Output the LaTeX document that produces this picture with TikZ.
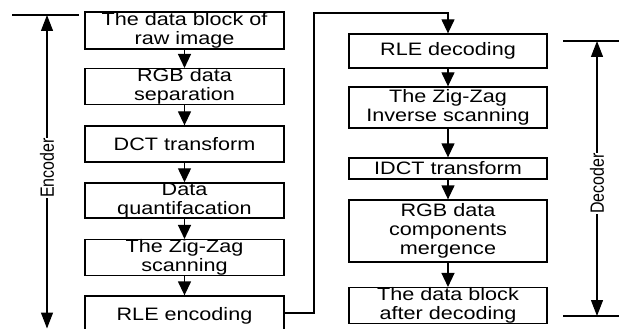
\documentclass[tikz,border=0pt]{standalone}
\usepackage{fontspec}
\setmainfont{Liberation Sans}[FakeStretch=1.2]
\newfontfamily\lblfont{Liberation Sans}
\usetikzlibrary{arrows.meta}
\begin{document}
\begin{tikzpicture}[x=1pt,y=-1pt, line width=1.3pt,
  box/.style={draw, inner sep=0pt, align=center, font=\fontsize{18}{19}\selectfont},
  lbox/.style={box, minimum width=199pt},
  rbox/.style={box, minimum width=198pt},
  arr/.style={-{Triangle[length=14pt,width=13pt]}},
  dimarr/.style={{Triangle[length=16pt,width=12pt]}-{Triangle[length=16pt,width=12pt]}},
  lbl/.style={rotate=90, fill=white, inner sep=0.5pt, font=\lblfont\fontsize{16}{16}\selectfont}]
\useasboundingbox (0,0) rectangle (619,329);
% left column
\node[lbox, minimum height=37pt] (l1) at (184.5,30.5) {The data block of\\raw image};
\node[lbox, minimum height=35pt] (l2) at (184.5,86.5) {RGB data\\separation};
\node[lbox, minimum height=36pt] (l3) at (184.5,144) {DCT transform};
\node[lbox, minimum height=35pt] (l4) at (184.5,200.5) {Data\\quantifacation};
\node[lbox, minimum height=35pt] (l5) at (184.5,257.5) {The Zig-Zag\\scanning};
\node[lbox, minimum height=40pt] (l6) at (184.5,316) {RLE encoding};
% right column
\node[rbox, minimum height=34pt] (r1) at (448,51) {RLE decoding};
\node[rbox, minimum height=41pt] (r2) at (448,107.5) {The Zig-Zag\\Inverse scanning};
\node[rbox, minimum height=21pt] (r3) at (448,168.5) {IDCT transform};
\node[rbox, minimum height=62pt] (r4) at (448,231) {RGB data\\components\\mergence};
\node[rbox, minimum height=35pt] (r5) at (448,305.5) {The data block\\after decoding};
% arrows
\draw[arr] (l1) -- (l2);
\draw[arr] (l2) -- (l3);
\draw[arr] (l3) -- (l4);
\draw[arr] (l4) -- (l5);
\draw[arr] (l5) -- (l6);
\draw[arr] (r1) -- (r2);
\draw[arr] (r2) -- (r3);
\draw[arr] (r3) -- (r4);
\draw[arr] (r4) -- (r5);
\coordinate (c1) at (314,13);
\coordinate (lout) at ([yshift=3pt]l6.east);
\draw[arr] (lout) -- (c1 |- lout) -- (c1) -- (c1 -| r1.north) -- (r1.north);
% encoder
\coordinate (etl) at (12,15);
\coordinate (etr) at (79,15);
\coordinate (et) at (47,15);
\coordinate (eb) at (47,328.5);
\draw (etl) -- (etr);
\draw[dimarr] (et) -- (eb);
\node[lbl] (enc) at (47,168) {\scalebox{1}[1.2]{Encoder}};
% decoder
\coordinate (dtl) at (563,41);
\coordinate (dtr) at (619,41);
\coordinate (dbl) at (563,316);
\coordinate (dbr) at (619,316);
\coordinate (dt) at (597,41);
\coordinate (db) at (597,316);
\draw (dtl) -- (dtr);
\draw (dbl) -- (dbr);
\draw[dimarr] (dt) -- (db);
\node[lbl] (dec) at (597,183.5) {\scalebox{1}[1.2]{Decoder}};
\end{tikzpicture}
\end{document}
